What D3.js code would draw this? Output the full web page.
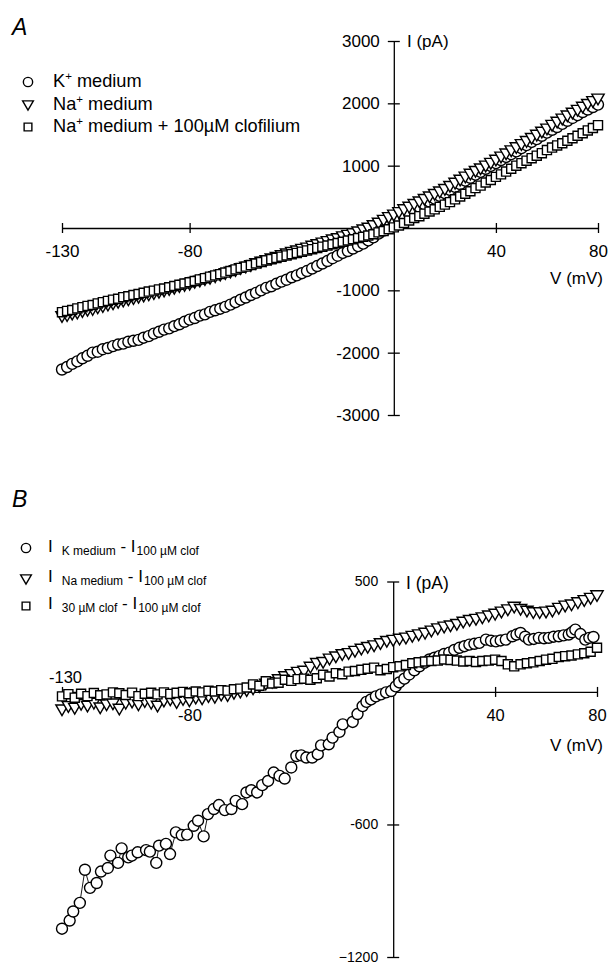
<!DOCTYPE html>
<html><head><meta charset="utf-8">
<script src="https://cdn.jsdelivr.net/npm/d3@7"></script>
<style>
body{margin:0;background:#fff}
svg{display:block;font-family:"Liberation Sans",Arial,Helvetica,sans-serif}
</style>
</head><body>
<svg id="chart" width="614" height="974"></svg>
<script>
// ---------- Panel A data (V in mV, I in pA) ----------
const vA = [-130,-128,-126,-124,-122,-120,-118,-116,-114,-112,-110,-108,-106,-104,-102,-100,-98,-96,-94,-92,-90,-88,-86,-84,-82,-80,-78,-76,-74,-72,-70,-68,-66,-64,-62,-60,-58,-56,-54,-52,-50,-48,-46,-44,-42,-40,-38,-36,-34,-32,-30,-28,-26,-24,-22,-20,-18,-16,-14,-12,-10,-8,-6,-4,-2,0,2,4,6,8,10,12,14,16,18,20,22,24,26,28,30,32,34,36,38,40,42,44,46,48,50,52,54,56,58,60,62,64,66,68,70,72,74,76,78,80];
const aKmedium = [-2270,-2230,-2180,-2140,-2090,-2050,-2000,-1985,-1945,-1925,
 -1895,-1870,-1855,-1825,-1810,-1795,-1760,-1735,-1695,-1665,
 -1630,-1610,-1575,-1545,-1505,-1470,-1445,-1405,-1385,-1345,
 -1320,-1295,-1265,-1230,-1190,-1150,-1115,-1075,-1040,-1000,
 -960,-935,-895,-860,-830,-790,-760,-725,-690,-650,
 -610,-570,-530,-485,-445,-400,-370,-330,-290,-250,
 -200,-150,-90,-40,20,80,130,175,230,285,
 340,380,425,470,515,560,610,660,705,760,
 805,855,900,950,995,1040,1090,1140,1185,1230,
 1280,1330,1380,1425,1480,1530,1575,1620,1670,1720,
 1765,1810,1860,1900,1940,1980];
const aNaMedium = [-1400,-1385,-1360,-1345,-1320,-1300,-1285,-1260,-1240,-1215,
 -1195,-1170,-1150,-1130,-1110,-1090,-1070,-1050,-1030,-1010,
 -990,-965,-945,-920,-900,-880,-850,-830,-805,-785,
 -760,-735,-710,-685,-660,-630,-605,-580,-550,-525,
 -500,-475,-450,-420,-395,-370,-345,-320,-300,-270,
 -245,-220,-195,-170,-150,-120,-95,-70,-40,-10,
 20,60,100,145,190,230,270,315,355,400,
 440,480,520,560,600,640,690,740,790,840,
 885,930,970,1015,1060,1110,1160,1210,1260,1310,
 1360,1410,1460,1510,1560,1610,1670,1720,1770,1820,
 1865,1910,1960,2005,2050,2090];
const aNaClof = [-1350,-1330,-1315,-1290,-1270,-1250,-1235,-1210,-1190,-1170,
 -1150,-1135,-1110,-1095,-1075,-1060,-1040,-1020,-1005,-985,
 -970,-950,-930,-910,-890,-870,-850,-825,-805,-780,
 -760,-740,-715,-690,-665,-640,-620,-595,-570,-545,
 -520,-500,-480,-460,-440,-420,-400,-380,-360,-340,
 -320,-300,-280,-260,-240,-220,-200,-180,-160,-140,
 -120,-100,-70,-50,-20,10,40,80,120,160,
 190,230,265,300,340,375,415,460,505,550,
 590,640,680,730,770,820,860,905,950,1000,
 1040,1080,1120,1160,1200,1250,1290,1325,1360,1400,
 1440,1480,1520,1565,1605,1650];

// ---------- Panel B data ([V mV, I pA]) ----------
const bKminusClof = [[-130,-1072],[-127,-1035],[-125.6,-994],[-123,-955],[-121,-805],[-119,-887],[-116.4,-865],[-114.7,-813],[-112,-797],[-111,-741],
 [-108,-774],[-106.6,-708],[-104,-749],[-102.6,-741],[-100.3,-726],[-97,-716],[-95.5,-723],[-93,-774],[-91.9,-696],[-89.2,-688],
 [-87.6,-734],[-85.3,-636],[-83,-648],[-80.9,-646],[-78.3,-606],[-76.6,-583],[-74.4,-654],[-72.7,-553],[-70.4,-530],[-68.4,-512],
 [-66.1,-535],[-63.5,-530],[-61.8,-493],[-59.3,-508],[-57.6,-455],[-55.7,-445],[-53.4,-455],[-51.4,-422],[-49.1,-403],[-46.9,-365],
 [-44.6,-380],[-42.6,-392],[-40,-342],[-38,-290],[-36.1,-287],[-34.1,-297],[-31.8,-297],[-29.6,-282],[-28.3,-242],[-25.3,-237],
 [-23.8,-207],[-21.1,-181],[-19.8,-147],[-15.9,-136],[-14,-100],[-12,-64],[-10.5,-45],[-8.7,-34],[-6.8,-20],[-4.8,-11],
 [-2.8,-2],[-0.8,4],[1,25],[2.4,43],[4.4,60],[6.3,79],[8.3,98],[10.3,116],[12.2,132],[14.2,147],
 [16.2,155],[18.1,162],[20,172],[22,178],[24,190],[26,200],[28,207],[29.9,214],[31.9,218],[33.8,222],
 [36.4,237],[38.4,232],[40.3,229],[42.2,233],[44.2,237],[46.8,252],[48.4,260],[50,267],[51.8,250],[53.3,237],
 [55.2,240],[57.2,245],[59.2,243],[61.1,245],[63,250],[65,252],[66.9,256],[68.9,260],[70.2,270],[71.5,282],
 [73.5,262],[75.4,237],[77,245],[78.6,249]];
const bNaMinusClof = [[-130,-75],[-127.5,-60],[-125,-68],[-122.5,-50],[-120,-58],[-117.5,-45],[-115,-66],[-112.5,-52],[-110,-48],[-107.5,-72],
 [-105,-45],[-102.5,-40],[-100,-52],[-97.5,-38],[-95,-45],[-92.5,-58],[-90,-35],[-87.5,-30],[-85,-42],[-82.5,-28],
 [-80,-34],[-77.5,-22],[-75,-25],[-72.5,-15],[-70,-18],[-67.5,-8],[-65,-10],[-62.5,0],[-60,5],[-57.5,12],
 [-55,20],[-52.5,30],[-50,42],[-47.5,50],[-45,62],[-42.5,75],[-40,85],[-37.5,95],[-35,100],[-32.5,118],
 [-30,135],[-27.5,140],[-25,155],[-22.5,165],[-20,175],[-17.5,180],[-15,190],[-12.5,200],[-10,208],[-7.5,215],
 [-5,225],[-2.5,235],[0,240],[2.5,245],[5,250],[7.5,258],[10,265],[12.5,272],[15,282],[17.5,292],
 [20,300],[22.5,305],[25,312],[27.5,322],[30,330],[32.5,335],[35,342],[37.5,350],[40,358],[42.5,368],
 [45,378],[47.5,390],[50,380],[52.5,372],[55,365],[57.5,365],[60,368],[62.5,372],[65,385],[67.5,395],
 [70,400],[72.5,410],[75,420],[77.5,430],[80,442]];
const b30MinusClof = [[-130,-20],[-127.5,-10],[-125,-26],[-122.5,-8],[-120,-19],[-117.5,-5],[-115,-15],[-112.5,-11],[-110,-2],[-107.5,-6],
 [-105,-14],[-102.5,-3],[-100,-19],[-97.5,-8],[-95,-4],[-92.5,-11],[-90,-2],[-87.5,-9],[-85,-4],[-82.5,0],
 [-80,-6],[-77.5,2],[-75,-2],[-72.5,5],[-70,2],[-67.5,8],[-65,6],[-62.5,12],[-60,15],[-57.5,20],
 [-55,34],[-52.5,28],[-50,48],[-47.5,38],[-45,42],[-42.5,55],[-40,50],[-37.5,58],[-35,60],[-32.5,55],
 [-30,62],[-27.5,78],[-25,70],[-22.5,85],[-20,80],[-17.5,92],[-15,95],[-12.5,100],[-10,105],[-7.5,110],
 [-5,98],[-2.5,104],[0,112],[2.5,116],[5,122],[7.5,130],[10,134],[12.5,138],[15,140],[17.5,142],
 [20,147],[22.5,145],[25,142],[27.5,138],[30,140],[32.5,136],[35,140],[37.5,142],[40,146],[42.5,140],
 [45,125],[47.5,116],[50,125],[52.5,130],[55,134],[57.5,140],[60,146],[62.5,150],[65,158],[67.5,162],
 [70,165],[72.5,170],[75,175],[77.5,182],[80,200]];

// ---------- Ticks & labels ----------
const xTickValues = [-130,-80,40,80];
const yTicksA = [3000,2000,1000,-1000,-2000,-3000];
const yTicksB = [500,-600,-1200];

const svg = d3.select("#chart");
const INK = "#000";
const fmt = d => String(d);   // plain hyphen-minus like the original

const xA = d3.scaleLinear().domain([-130,80]).range([62,598]);
const yA = d3.scaleLinear().domain([-3000,3000]).range([415,41]);
const xB = d3.scaleLinear().domain([-130,80]).range([62,597]);
const yB = d3.scaleLinear().domain([-1200,500]).range([957,581.5]);

const symType = {circle:d3.symbolCircle, tri:d3.symbolTriangle, square:d3.symbolSquare};
const symSize = {circle:95, tri:66, square:82};
function markers(g, pts, x, y, kind){
  g.append("path").datum(pts)
    .attr("fill","none").attr("stroke",INK).attr("stroke-width",0.9)
    .attr("d", d3.line().x(d=>x(d[0])).y(d=>y(d[1])));
  const p = d3.symbol(symType[kind], symSize[kind])();
  g.selectAll(null).data(pts).join("path")
    .attr("d", p)
    .attr("transform", d=>`translate(${x(d[0])},${y(d[1])})` + (kind==="tri" ? " rotate(180)" : ""))
    .attr("fill","#fff").attr("stroke",INK).attr("stroke-width",1.4);
}
function legendMark(g, kind, cx, cy){
  const sz = {circle:68, tri:50, square:60}[kind];
  g.append("path").attr("d", d3.symbol(symType[kind], sz)())
    .attr("transform", `translate(${cx},${cy})` + (kind==="tri" ? " rotate(180)" : ""))
    .attr("fill","#fff").attr("stroke",INK).attr("stroke-width",1.4);
}
function styleAxis(sel, cross){
  sel.select(".domain").attr("stroke",INK).attr("stroke-width",1.3);
  sel.selectAll(".tick line").attr("stroke",INK).attr("stroke-width",1.3);
  if(cross==="x") sel.selectAll(".tick line").attr("y1",-5).attr("y2",5);
  if(cross==="y") sel.selectAll(".tick line").attr("x1",-6).attr("x2",6);
  sel.selectAll(".tick text").attr("fill",INK);
  sel.attr("font-family",null);
}

// ================= Panel A =================
const gA = svg.append("g");
gA.append("text").attr("x",12).attr("y",35).attr("font-size",23).attr("font-style","italic").text("A");

const axXA = gA.append("g").attr("transform",`translate(0,${yA(0)})`)
  .call(d3.axisBottom(xA).tickValues(xTickValues).tickSizeInner(5).tickSizeOuter(0).tickPadding(12).tickFormat(fmt));
axXA.attr("font-size",17);
styleAxis(axXA,"x");
const axYA = gA.append("g").attr("transform",`translate(${xA(0)},0)`)
  .call(d3.axisLeft(yA).tickValues(yTicksA).tickSizeInner(6).tickSizeOuter(0).tickPadding(8).tickFormat(fmt));
axYA.attr("font-size",17);
styleAxis(axYA,"y");
gA.append("text").attr("x",407).attr("y",47).attr("font-size",17).text("I (pA)");
gA.append("text").attr("x",603).attr("y",284).attr("font-size",17).attr("text-anchor","end").text("V (mV)");

const ptsA = arr => vA.map((v,i)=>[v,arr[i]]);
markers(gA, ptsA(aKmedium), xA, yA, "circle");
markers(gA, ptsA(aNaMedium), xA, yA, "tri");
markers(gA, ptsA(aNaClof), xA, yA, "square");

// legend A
const legA = gA.append("g").attr("font-size",18.2);
legendMark(legA,"circle",28,82);
legendMark(legA,"tri",28,104);
legendMark(legA,"square",28,127);
function supLabel(y, base, rest){
  const t = legA.append("text").attr("x",53).attr("y",y);
  t.append("tspan").text(base);
  t.append("tspan").attr("font-size",11.5).attr("dy",-7).text("+");
  t.append("tspan").attr("dy",7).text(rest);
}
supLabel(87, "K", " medium");
supLabel(110, "Na", " medium");
supLabel(132, "Na", " medium + 100\u00B5M clofilium");

// ================= Panel B =================
const gB = svg.append("g");
gB.append("text").attr("x",12).attr("y",507).attr("font-size",23).attr("font-style","italic").text("B");

const axXB = gB.append("g").attr("transform",`translate(0,${yB(0)})`)
  .call(d3.axisBottom(xB).tickValues(xTickValues).tickSizeInner(5).tickSizeOuter(0).tickPadding(12).tickFormat(fmt));
axXB.attr("font-size",16.5);
styleAxis(axXB,"x");
axXB.selectAll(".tick").filter(d=>d===-130).select("text").attr("y",-9).attr("dy",0).attr("x",3);
const axYB = gB.append("g").attr("transform",`translate(${xB(0)},0)`)
  .call(d3.axisLeft(yB).tickValues(yTicksB).tickSizeInner(6).tickSizeOuter(0).tickPadding(9).tickFormat(d => d===-1200 ? "\u22121200" : String(d)));
axYB.attr("font-size",14);
styleAxis(axYB,"y");
gB.append("text").attr("x",406).attr("y",589).attr("font-size",17.5).text("I (pA)");
gB.append("text").attr("x",603).attr("y",751).attr("font-size",17).attr("text-anchor","end").text("V (mV)");

markers(gB, bKminusClof, xB, yB, "circle");
markers(gB, bNaMinusClof, xB, yB, "tri");
markers(gB, b30MinusClof, xB, yB, "square");

// legend B
const legB = gB.append("g").attr("font-size",17);
legendMark(legB,"circle",26,548);
legendMark(legB,"tri",26,578);
legendMark(legB,"square",26,606);
function subLabel(y, a, b){
  const tx = legB.append("text").attr("x",48).attr("y",y);
  tx.append("tspan").text("I");
  tx.append("tspan").attr("font-size",12).attr("dy",3).attr("dx",9).text(a);
  tx.append("tspan").attr("dy",-3).text(" - I");
  tx.append("tspan").attr("font-size",12).attr("dy",3).attr("dx",1).text(b);
}
subLabel(552, "K medium", "100 \u00B5M clof");
subLabel(582, "Na medium", "100 \u00B5M clof");
subLabel(609, "30 \u00B5M clof", "100 \u00B5M clof");
</script>
</body></html>
